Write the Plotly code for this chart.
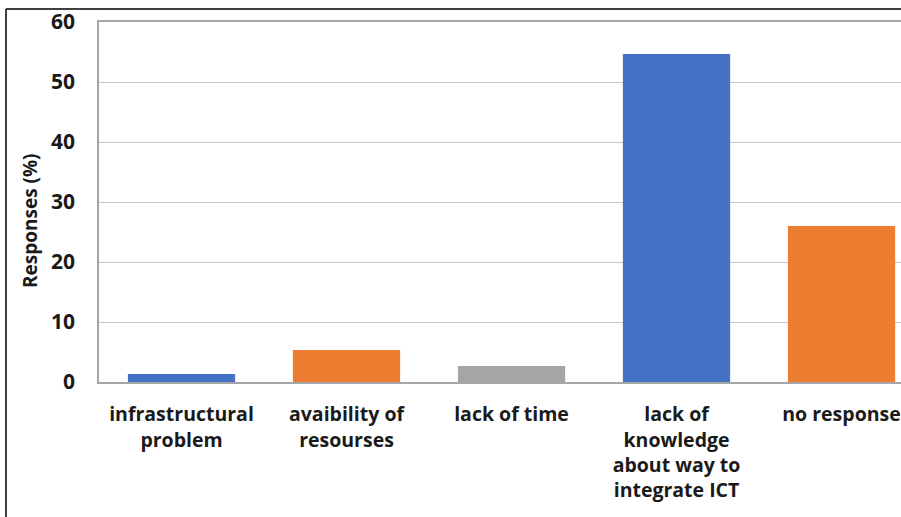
import plotly.graph_objects as go

# Reported barriers to ICT integration
categories = [
    "infrastructural<br>problem",
    "avaibility of<br>resourses",
    "lack of time",
    "lack of<br>knowledge<br>about way to<br>integrate ICT",
    "no response",
]
responses_pct = [1.33, 5.33, 2.67, 54.67, 26.0]
bar_colors = ["#4472C4", "#ED7D31", "#A5A5A5", "#4472C4", "#ED7D31"]
y_ticks = [0, 10, 20, 30, 40, 50, 60]

W, H = 901, 517
L, T, B = 99, 22, 135
plot_w = W - L
plot_h = H - T - B

fig = go.Figure(
    go.Bar(
        x=list(range(len(categories))),
        y=responses_pct,
        marker=dict(color=bar_colors, line=dict(width=0)),
        width=0.65,
        hoverinfo="y",
    )
)

# category width in px is 165, so the last category runs past the right edge
cat_px = 165
x_max = -0.5 + plot_w / cat_px

font_family = "Open Sans"
fig.update_layout(
    width=W,
    height=H,
    margin=dict(l=L, r=0, t=T, b=B),
    paper_bgcolor="white",
    plot_bgcolor="white",
    showlegend=False,
    xaxis=dict(
        range=[-0.5, x_max],
        tickmode="array",
        tickvals=list(range(len(categories))),
        ticktext=categories,
        tickangle=0,
        tickfont=dict(family=font_family, size=19.5, color="#1a1a1a", weight="bold"),
        showline=True,
        mirror=True,
        linecolor="#a6a6a6",
        linewidth=1.5,
        showgrid=False,
        ticks="",
        ticklabelstandoff=14,
        zeroline=False,
    ),
    yaxis=dict(
        range=[0, 60],
        tickmode="array",
        tickvals=y_ticks,
        tickfont=dict(family=font_family, size=21, color="#1a1a1a", weight="bold"),
        showline=True,
        linecolor="#a6a6a6",
        linewidth=1.5,
        gridcolor="#c8c8c8",
        gridwidth=1.2,
        ticks="",
        ticklabelstandoff=18,
        zeroline=False,
    ),
)

# rotated axis title
fig.add_annotation(
    text="Responses (%)",
    textangle=-90,
    xref="paper",
    yref="paper",
    x=(30 - L) / plot_w,
    y=(T + plot_h - 221) / plot_h,
    xanchor="center",
    yanchor="middle",
    showarrow=False,
    font=dict(family=font_family, size=19, color="#1a1a1a", weight="bold"),
)

# outer frame (top and left edges)
fx = (6 - L) / plot_w
fy = (T + plot_h - 9) / plot_h
fig.add_shape(type="line", xref="paper", yref="paper",
              x0=fx, y0=fy, x1=1.2, y1=fy, line=dict(color="black", width=1.5))
fig.add_shape(type="line", xref="paper", yref="paper",
              x0=fx, y0=fy, x1=fx, y1=-1, line=dict(color="black", width=1.5))

fig.write_html("out.html")
